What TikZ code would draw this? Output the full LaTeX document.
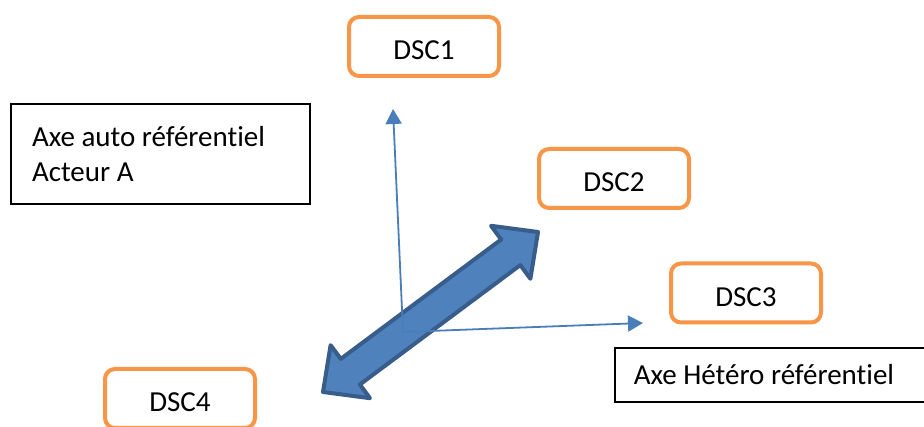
\documentclass[tikz,border=0pt]{standalone}
\usepackage{fontspec}
\setmainfont{Carlito}[Ligatures={NoCommon,NoRare}]
\usetikzlibrary{arrows.meta}
\definecolor{dscorange}{HTML}{F79646}
\definecolor{bigfill}{HTML}{4F81BD}
\definecolor{bigborder}{HTML}{385D8A}
\definecolor{axisblue}{HTML}{4A7EBB}
\begin{document}
\begin{tikzpicture}[x=1pt,y=-1pt,
  dscbox/.style={draw=dscorange, line width=4pt, rounded corners=10pt,
    minimum width=150pt, minimum height=59pt, inner sep=0pt,
    text height=27pt, text depth=0pt, font=\fontsize{29}{35}\selectfont},
  labelbox/.style={draw=black, line width=1.5pt, inner ysep=0pt,
    align=left, font=\fontsize{29}{35}\selectfont,
    execute at begin node={\spaceskip=0pt\xspaceskip=0pt\relax}},
  axisline/.style={draw=axisblue, line width=1.8pt,
    -{Triangle[length=15pt,width=16pt]}},
  bigarrow/.style={fill=bigfill, draw=bigborder, line width=4pt, line join=round}]
\useasboundingbox (0,0) rectangle (924,427);
\clip (0,0) rectangle (924,427);
\fill[white] (0,0) rectangle (924,427);

% boxes
\node[dscbox] (dsc1) at (424,46.5) {DSC1};
\node[dscbox] (dsc2) at (614,178.5) {DSC2};
\node[dscbox] (dsc3) at (746,293) {DSC3};
\node[dscbox] (dsc4) at (180,398.5) {DSC4};

\node[labelbox, minimum height=100pt, text width=257pt, inner xsep=21pt]
  (auto) at (160.5,154) {Axe auto référentiel\\Acteur A};
\node[labelbox, minimum height=54pt, text width=278pt, inner xsep=19pt,
  text height=20pt, text depth=0pt, anchor=west]
  (hetero) at (614,375) {Axe Hétéro référentiel};

% big double arrow
\draw[bigarrow] (538,232) -- (530.4,278.8) -- (520.3,265.1) -- (359.9,384.5)
  -- (370.0,398.2) -- (323,392) -- (330.6,345.2) -- (340.8,358.9)
  -- (501.2,239.5) -- (491.0,225.8) -- cycle;

% axes
\coordinate (origin) at (403,332);
\coordinate (vtip) at (393,109);
\coordinate (htip) at (643,323);
\draw[axisline] (origin) -- (vtip);
\draw[axisline] (origin) -- (htip);
\end{tikzpicture}
\end{document}
